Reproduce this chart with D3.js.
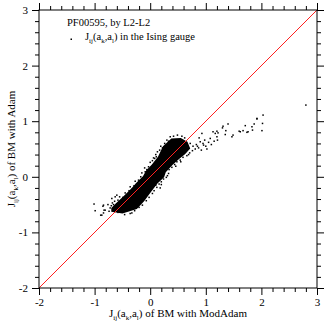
<!DOCTYPE html>
<html lang="en">
<head>
<meta charset="UTF-8" />
<title>PF00595 couplings</title>
<script src="https://d3js.org/d3.v7.min.js"></script>
<style>
  html, body { margin: 0; padding: 0; background: #fff; }
  svg text { font-family: "Liberation Serif", "Times New Roman", "DejaVu Serif", serif; }
</style>
</head>
<body>
<svg id="chart" width="327" height="326"></svg>
<script>
// ---------------------------------------------------------
// Data
// ---------------------------------------------------------
const xTickLabels = ["-2", "-1", "0", "1", "2", "3"];
const yTickLabels = ["-2", "-1", "0", "1", "2", "3"];
const axisDomain = [-2, 3];

// outline of the dense cloud of couplings [ModAdam, Adam]
const coreOutline = [
  [0.38, 0.69], [0.23, 0.55], [0.14, 0.36], [0.03, 0.22], [-0.07, 0.12],
  [-0.13, 0.01], [-0.24, -0.10], [-0.34, -0.21], [-0.48, -0.35], [-0.62, -0.48],
  [-0.70, -0.56], [-0.70, -0.63], [-0.50, -0.66], [-0.24, -0.58], [-0.11, -0.44],
  [0.01, -0.28], [0.13, -0.12], [0.25, -0.01], [0.28, 0.08], [0.40, 0.21],
  [0.52, 0.32], [0.63, 0.41], [0.72, 0.51], [0.67, 0.63], [0.55, 0.70]
];

// scattered couplings around and away from the cloud
const scatterPoints = [
  // far tail to the right
  [2.80, 1.29], [2.03, 1.11], [1.92, 1.05], [1.92, 1.04], [2.02, 0.96], [2.01, 0.83],
  [1.87, 0.95], [1.83, 0.90], [1.76, 0.81], [1.74, 0.80], [1.67, 0.83], [1.62, 0.81],
  [1.49, 0.75], [1.40, 0.95], [1.31, 0.91], [1.36, 0.83], [1.22, 0.79], [1.17, 0.78],
  [1.13, 0.81], [1.20, 0.72], [1.08, 0.69], [0.93, 0.78], [0.90, 0.63], [0.96, 0.57],
  [1.71, 0.92], [1.84, 0.84], [1.60, 0.82], [1.47, 0.72], [1.30, 0.88], [1.20, 0.82],
  [1.35, 0.76], [1.21, 0.66], [1.05, 0.62], [1.00, 0.55], [0.95, 0.60], [0.85, 0.55],
  [1.10, 0.58], [0.98, 0.66], [0.88, 0.70], [1.15, 0.64], [0.92, 0.48], [1.02, 0.50],
  // fringe above-left of the cloud
  [-0.66, -0.50], [-0.58, -0.42], [-0.55, -0.36], [-0.49, -0.37], [-0.45, -0.29],
  [-0.38, -0.25], [-0.36, -0.18], [-0.29, -0.16], [-0.27, -0.08], [-0.21, -0.06],
  [-0.17, 0.00], [-0.15, 0.07], [-0.09, 0.09], [-0.10, 0.16], [-0.03, 0.18],
  [0.00, 0.26], [0.04, 0.29], [0.06, 0.34], [0.10, 0.40], [0.13, 0.45],
  [0.17, 0.48], [0.19, 0.55], [0.26, 0.60], [0.30, 0.66], [0.36, 0.72],
  [0.42, 0.73], [0.49, 0.75], [0.57, 0.73], [0.62, 0.70], [-0.52, -0.44],
  [-0.41, -0.33], [-0.32, -0.22], [-0.19, -0.09], [-0.06, 0.13], [0.08, 0.33],
  [0.22, 0.52], [0.33, 0.64], [-0.25, -0.14], [0.11, 0.36],
  // fringe below-right of the cloud
  [-0.46, -0.68], [-0.36, -0.66], [-0.28, -0.61], [-0.20, -0.55], [-0.14, -0.51],
  [-0.07, -0.43], [-0.02, -0.37], [0.04, -0.30], [0.07, -0.25], [0.12, -0.19],
  [0.16, -0.13], [0.20, -0.09], [0.24, -0.04], [0.29, -0.01], [0.33, 0.06],
  [0.34, 0.13], [0.39, 0.17], [0.44, 0.22], [0.48, 0.27], [0.54, 0.30],
  [0.59, 0.35], [0.66, 0.38], [0.71, 0.43], [0.76, 0.47], [0.81, 0.50],
  [0.77, 0.55], [0.83, 0.58], [0.72, 0.60], [0.87, 0.52], [0.20, -0.14],
  [0.10, -0.15], [0.31, 0.02], [0.55, 0.27], [0.69, 0.40], [0.18, -0.20],
  [-0.33, -0.65], [0.46, 0.19],
  // left tail
  [-1.01, -0.49], [-0.84, -0.51], [-0.81, -0.60], [-0.99, -0.61], [-0.84, -0.65],
  [-0.89, -0.69], [-0.72, -0.56], [-0.87, -0.69], [-0.83, -0.60], [-0.85, -0.53],
  [-0.60, -0.33], [-0.69, -0.39], [-0.63, -0.36], [-0.70, -0.52], [-0.66, -0.58],
  [-0.74, -0.62], [-0.68, -0.47], [-0.76, -0.50], [-0.58, -0.64], [-0.64, -0.44]
];

// ---------------------------------------------------------
// Layout & scales
// ---------------------------------------------------------
const svg = d3.select("#chart");
const plot = { left: 39, right: 317, top: 10, bottom: 288 };
const serif = "Liberation Serif, Times New Roman, DejaVu Serif, serif";

const x = d3.scaleLinear().domain(axisDomain).range([plot.left, plot.right]);
const y = d3.scaleLinear().domain(axisDomain).range([plot.bottom, plot.top]);

const majorTicks = xTickLabels.map(Number);
const minorTicks = d3.range(-2, 3.001, 0.2).filter(v => Math.abs(v - Math.round(v)) > 1e-6);

function styleAxis(sel) {
  sel.select(".domain").remove();
  sel.attr("font-family", serif);
  sel.selectAll("line").attr("stroke", "#000").attr("stroke-width", 1);
  sel.selectAll("text")
    .attr("fill", "#000")
    .attr("font-size", "11px")
    .attr("font-family", serif);
}

// bottom
svg.append("g").attr("transform", `translate(0,${plot.bottom})`)
  .call(d3.axisBottom(x).tickValues(minorTicks).tickSize(4).tickFormat(""))
  .call(styleAxis);
svg.append("g").attr("transform", `translate(0,${plot.bottom})`)
  .call(d3.axisBottom(x).tickValues(majorTicks).tickSize(7).tickPadding(3)
    .tickFormat((d, i) => xTickLabels[i]))
  .call(styleAxis);
// top
svg.append("g").attr("transform", `translate(0,${plot.top})`)
  .call(d3.axisTop(x).tickValues(minorTicks).tickSize(4).tickFormat(""))
  .call(styleAxis);
svg.append("g").attr("transform", `translate(0,${plot.top})`)
  .call(d3.axisTop(x).tickValues(majorTicks).tickSize(7).tickFormat(""))
  .call(styleAxis);
// left
svg.append("g").attr("transform", `translate(${plot.left},0)`)
  .call(d3.axisLeft(y).tickValues(minorTicks).tickSize(4).tickFormat(""))
  .call(styleAxis);
svg.append("g").attr("transform", `translate(${plot.left},0)`)
  .call(d3.axisLeft(y).tickValues(majorTicks).tickSize(7).tickPadding(4)
    .tickFormat((d, i) => yTickLabels[i]))
  .call(styleAxis);
// right
svg.append("g").attr("transform", `translate(${plot.right},0)`)
  .call(d3.axisRight(y).tickValues(minorTicks).tickSize(4).tickFormat(""))
  .call(styleAxis);
svg.append("g").attr("transform", `translate(${plot.right},0)`)
  .call(d3.axisRight(y).tickValues(majorTicks).tickSize(7).tickFormat(""))
  .call(styleAxis);

// ---------------------------------------------------------
// Marks
// ---------------------------------------------------------
svg.append("path")
  .datum(coreOutline)
  .attr("d", d3.line().x(d => x(d[0])).y(d => y(d[1])).curve(d3.curveLinearClosed))
  .attr("fill", "#000");

svg.append("g").selectAll("rect")
  .data(scatterPoints)
  .join("rect")
  .attr("x", d => x(d[0]) - 0.75)
  .attr("y", d => y(d[1]) - 0.75)
  .attr("width", 1.5)
  .attr("height", 1.5)
  .attr("fill", "#000");

// diagonal y = x
svg.append("line")
  .attr("x1", x(axisDomain[0])).attr("y1", y(axisDomain[0]))
  .attr("x2", x(axisDomain[1])).attr("y2", y(axisDomain[1]))
  .attr("stroke", "#ff2020").attr("stroke-width", 1);

// frame
svg.append("rect")
  .attr("x", plot.left).attr("y", plot.top)
  .attr("width", plot.right - plot.left).attr("height", plot.bottom - plot.top)
  .attr("fill", "none").attr("stroke", "#000").attr("stroke-width", 1);

// ---------------------------------------------------------
// Text: J_ij(a_k,a_l) with subscripts
// ---------------------------------------------------------
function coupling(text) {
  const sub = s => text.append("tspan").attr("font-size", "7px").attr("dy", 2.5).text(s);
  const up = s => text.append("tspan").attr("dy", -2.5).text(s);
  text.append("tspan").text("J");
  sub("ij");
  up("(a");
  sub("k");
  up(",a");
  sub("l");
  up(")");
  return text;
}

const xLabel = svg.append("text")
  .attr("x", (plot.left + plot.right) / 2).attr("y", 317)
  .attr("text-anchor", "middle").attr("font-size", "11px").attr("font-family", serif);
coupling(xLabel).append("tspan").text(" of BM with ModAdam");

const yLabel = svg.append("text")
  .attr("transform", `translate(15,${(plot.top + plot.bottom) / 2}) rotate(-90)`)
  .attr("text-anchor", "middle").attr("font-size", "11px").attr("font-family", serif);
coupling(yLabel).append("tspan").text(" of BM with Adam");

// legend
svg.append("text").attr("x", 67).attr("y", 26).attr("font-size", "10.5px").attr("font-family", serif)
  .text("PF00595, by L2-L2");
svg.append("rect").attr("x", 70.5).attr("y", 38.5).attr("width", 1.5).attr("height", 1.5).attr("fill", "#000");
const legendText = svg.append("text").attr("x", 85).attr("y", 40)
  .attr("font-size", "10.5px").attr("font-family", serif);
coupling(legendText).append("tspan").text(" in the Ising gauge");
</script>
</body>
</html>
